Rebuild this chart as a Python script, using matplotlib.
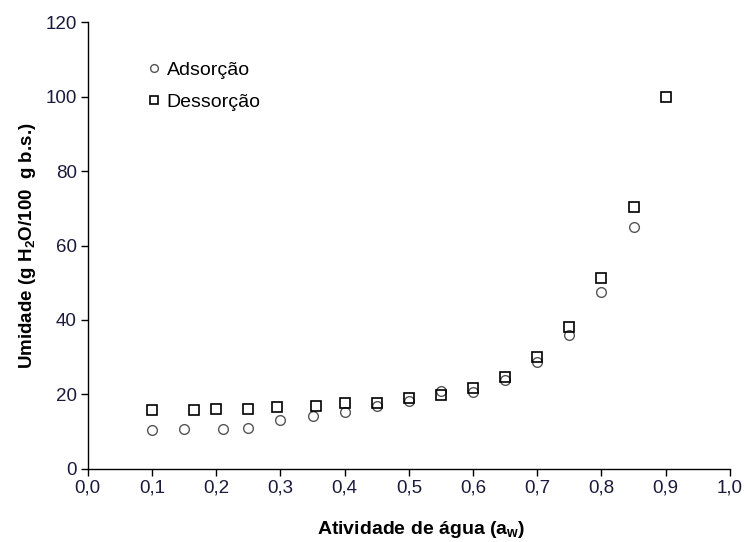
import matplotlib.pyplot as plt

plt.rcParams['font.family'] = ['Liberation Sans', 'DejaVu Sans']
plt.rcParams['mathtext.default'] = 'regular'

# Adsorcao
aw_ads = [0.10, 0.15, 0.21, 0.25, 0.30, 0.35, 0.40, 0.45, 0.50, 0.55, 0.60, 0.65, 0.70, 0.75, 0.80, 0.85]
u_ads = [10.3, 10.7, 10.7, 11.1, 13.0, 14.3, 15.4, 16.9, 18.1, 20.9, 20.6, 23.9, 28.8, 35.9, 47.4, 65.0]

# Dessorcao
aw_des = [0.10, 0.165, 0.20, 0.25, 0.295, 0.355, 0.40, 0.45, 0.50, 0.55, 0.60, 0.65, 0.70, 0.75, 0.80, 0.85, 0.90]
u_des = [15.8, 15.8, 16.2, 16.2, 16.6, 17.0, 17.8, 17.8, 19.0, 19.9, 21.8, 24.7, 30.1, 38.0, 51.4, 70.3, 100.0]

xticks = [0.0, 0.1, 0.2, 0.3, 0.4, 0.5, 0.6, 0.7, 0.8, 0.9, 1.0]
xlabels = ['0,0', '0,1', '0,2', '0,3', '0,4', '0,5', '0,6', '0,7', '0,8', '0,9', '1,0']
yticks = [0, 20, 40, 60, 80, 100, 120]

fig = plt.figure(figsize=(7.44, 5.42), dpi=100)
ax = fig.add_axes([0.118, 0.135, 0.863, 0.824])

ax.plot(aw_ads, u_ads, 'o', mfc='white', mec='#555555', mew=1.0, ms=7, label='Adsorção')
ax.plot(aw_des, u_des, 's', mfc='none', mec='black', mew=1.2, ms=7.5, label='Dessorção')

ax.set_xlim(0, 1.0)
ax.set_ylim(0, 120)
ax.set_xticks(xticks)
ax.set_xticklabels(xlabels)
ax.set_yticks(yticks)

ax.spines['top'].set_visible(False)
ax.spines['right'].set_visible(False)
for s in ['left', 'bottom']:
    ax.spines[s].set_linewidth(1.0)
ax.tick_params(direction='out', length=5, width=1, labelsize=13.5, colors='black',
               labelcolor='#1a1a3c', pad=3)

ax.set_ylabel('Umidade (g H$_2$O/100  g b.s.)', fontsize=13.5, fontweight='bold', labelpad=5)
ax.set_xlabel('Atividade de água (a$_w$)', fontsize=14, fontweight='bold')
ax.xaxis.set_label_coords(0.519, -0.113)

leg = ax.legend(loc='upper left', bbox_to_anchor=(0.073, 0.935), frameon=False,
                fontsize=14, labelspacing=0.75, handletextpad=0.15, borderpad=0,
                handlelength=1.0, markerscale=0.8)

fig.savefig('out.png', dpi=100)
